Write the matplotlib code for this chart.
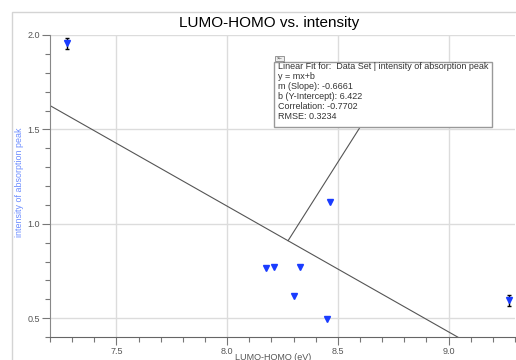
import matplotlib
matplotlib.use("Agg")
import matplotlib.pyplot as plt
from matplotlib.patches import Rectangle
from matplotlib.ticker import MultipleLocator
import numpy as np

# data
lumo_homo = [7.278, 8.464, 8.175, 8.213, 8.331, 8.302, 8.450, 9.275]
intensity = [1.955, 1.115, 0.766, 0.771, 0.772, 0.615, 0.497, 0.594]
err_x = [7.278, 9.275]
err_y = [1.955, 0.594]
err_size = [0.03, 0.03]

slope = -0.6661
intercept = 6.422
fit_lines = ["Linear Fit for:  Data Set | intensity of absorption peak",
             "y = mx+b",
             "m (Slope): -0.6661",
             "b (Y-Intercept): 6.422",
             "Correlation: -0.7702",
             "RMSE: 0.3234"]
leader_x = 8.275

plt.rcParams['font.family'] = ['Liberation Sans', 'DejaVu Sans']

W, H = 516, 360
fig = plt.figure(figsize=(W / 100, H / 100), dpi=100)

def fx(px):
    return px / W

def fy(py):
    return 1 - py / H

ax = fig.add_axes([fx(50), fy(337), fx(515) - fx(50), fy(35) - fy(337)])
ax.set_xlim(7.2, 9.3)
ax.set_ylim(0.4, 2.0)

# grid
ax.xaxis.set_major_locator(MultipleLocator(0.5))
ax.xaxis.set_minor_locator(MultipleLocator(0.1))
ax.yaxis.set_major_locator(MultipleLocator(0.5))
ax.yaxis.set_minor_locator(MultipleLocator(0.1))
ax.grid(True, which='major', color='#dcdcdc', linewidth=1)
ax.set_axisbelow(True)
for s in ['top', 'right']:
    ax.spines[s].set_visible(False)
ax.spines['left'].set_color('#888888')
ax.spines['bottom'].set_color('#666666')
ax.tick_params(which='major', length=6, width=0.8, color='#777777',
               labelsize=6.5, labelcolor='#555555', pad=1)
ax.tick_params(which='minor', length=3.5, width=0.8, color='#777777')
ax.xaxis.set_major_formatter(lambda v, p: f"{v:.1f}")
ax.yaxis.set_major_formatter(lambda v, p: f"{v:.1f}")

# fit line
xs = np.array([7.2, 9.3])
ax.plot(xs, slope * xs + intercept, color='#555555', linewidth=0.8)

# data
ax.errorbar(err_x, err_y, yerr=err_size, fmt='none', ecolor='black',
            elinewidth=1, capsize=1.5, capthick=1)
ax.plot(lumo_homo, intensity, 'v', color='#1a3cff', markersize=5,
        clip_on=False, zorder=5)

# labels
fig.text(fx(269), fy(23.5), "LUMO-HOMO vs. intensity", fontsize=11,
         ha='center', va='center', color='black')
fig.text(fx(20), fy(182.5), "intensity of absorption peak", fontsize=6.4,
         rotation=90, ha='center', va='center', color='#6b8cff')
fig.text(fx(273), fy(357), "LUMO-HOMO (eV)", fontsize=6.5,
         ha='center', va='center', color='#555555')

# outer frame
fig.patches.append(Rectangle((fx(12), -0.1), 1.2, fy(12) + 0.1, fill=False,
                             edgecolor='#d4d4d4', linewidth=1,
                             transform=fig.transFigure, figure=fig))

# fit info box
box_l, box_t, box_r, box_b = 274, 61.7, 492, 127.3
ax.annotate('', xy=(leader_x, slope * leader_x + intercept), xycoords='data',
            xytext=(fx(360), fy(box_b)), textcoords='figure fraction',
            arrowprops=dict(arrowstyle='-', color='#555555', lw=0.8,
                            shrinkA=0, shrinkB=0))
fig.patches.append(Rectangle((fx(box_l), fy(box_b)), fx(box_r) - fx(box_l),
                             fy(box_t) - fy(box_b), facecolor='white',
                             edgecolor='#999999', linewidth=1,
                             transform=fig.transFigure, figure=fig, zorder=3))
fig.patches.append(Rectangle((fx(275), fy(61)), fx(9), fy(56) - fy(61),
                             facecolor='#eeeeee', edgecolor='#888888',
                             linewidth=0.6, transform=fig.transFigure,
                             figure=fig, zorder=4))
fig.text(fx(279.5), fy(58.5), "×–", fontsize=3.5, ha='center', va='center',
         color='#333333', zorder=5)
for i, line in enumerate(fit_lines):
    fig.text(fx(278), fy(66.7 + 10 * i), line, fontsize=6.5, ha='left',
             va='center', color='#333333', zorder=5)

fig.savefig('out.png', dpi=100)
